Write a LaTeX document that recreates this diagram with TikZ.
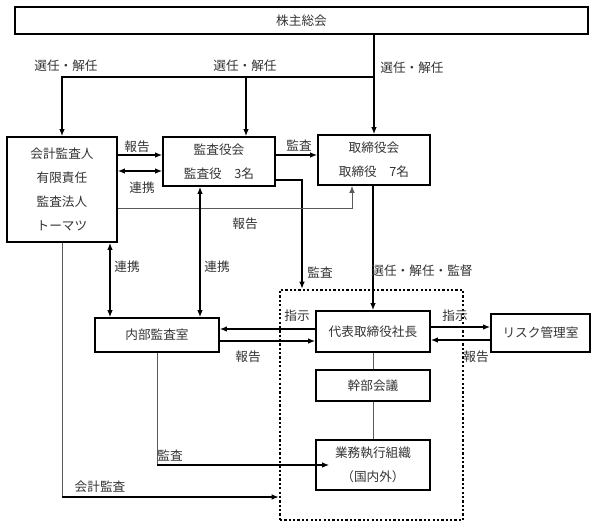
\documentclass[tikz,border=0pt]{standalone}
\usepackage{fontspec}
\newfontfamily\jpfont{Noto Sans CJK JP}
\usetikzlibrary{arrows.meta}
\newcommand{\pu}{0.25mm}
\begin{document}
\begin{tikzpicture}[x=\pu,y=-\pu,>={Latex[length=5pt,width=4pt]},font=\jpfont\fontsize{9}{17}\selectfont,text=black!80]
 \tikzset{box/.style={draw=black,line width=1.3pt,align=center,inner sep=0pt},
 conn/.style={line width=.9pt},
 thinline/.style={line width=.6pt,draw=black!65},
 lbl/.style={inner sep=0pt}
 }
 \useasboundingbox (0,0) rectangle (600,526);
 \node[draw=black,line width=1.8pt,dash pattern=on 1.6pt off 1.5pt,minimum width=183*\pu,minimum height=230*\pu] (frame) at (371.5,405) {};
 \node[box,minimum width=573*\pu,minimum height=27*\pu] (gm) at (301.5,20.5) {株主総会};
 \node[box,minimum width=110*\pu,minimum height=105*\pu] (auditor) at (62,189.5) {会計監査人\\有限責任\\監査法人\\トーマツ};
 \node[box,minimum width=112*\pu,minimum height=49*\pu] (kansa) at (219,161.5) {監査役会\\監査役　3名};
 \node[box,minimum width=112*\pu,minimum height=50*\pu] (board) at (374,160) {取締役会\\取締役　7名};
 \node[box,minimum width=124*\pu,minimum height=34*\pu] (internal) at (157,335) {内部監査室};
 \node[box,minimum width=114*\pu,minimum height=41*\pu] (ceo) at (373,331.5) {代表取締役社長};
 \node[box,minimum width=99*\pu,minimum height=38*\pu] (risk) at (540.5,333) {リスク管理室};
 \node[box,minimum width=114*\pu,minimum height=31*\pu] (exec) at (373,385.5) {幹部会議};
 \node[box,minimum width=114*\pu,minimum height=50*\pu] (ops) at (373,465) {業務執行組織\\（国内外）};

 \coordinate (split) at (gm.south -| board);
 \coordinate (acorner) at (auditor.south |- 0,497);
 \coordinate (icorner) at (internal.south |- ops.west);
 \draw[conn,->] (split) -- (board.north);
 \draw[conn,->] (split |- 0,77) -| (auditor.north);
 \draw[conn,->] (split |- 0,77) -| (246,0 |- kansa.north);
 \draw[conn,->] (auditor.east |- 0,155) -- (kansa.west |- 0,155);
 \draw[conn,<->] (auditor.east |- 0,171) -- (kansa.west |- 0,171);
 \draw[conn,->] (kansa.east |- 0,155) -- (board.west |- 0,155);
 \draw[conn,->] (kansa.east |- 0,180) -| (302,0 |- frame.north);
 \draw[thinline,->] (auditor.east |- 0,208) -| (352,0 |- board.south);
 \draw[conn,->] (board.south -| ceo) -- (ceo.north);
 \draw[conn,<->] (auditor.south -| 110,0) -- (internal.north -| 110,0);
 \draw[conn,<->] (kansa.south -| 200,0) -- (internal.north -| 200,0);
 \draw[thinline] (auditor.south) -- (acorner);
 \draw[conn,->] (acorner) -- (frame.west |- acorner);
 \draw[conn,->] (ceo.west |- 0,329) -- (internal.east |- 0,329);
 \draw[conn,->] (internal.east |- 0,341) -- (ceo.west |- 0,341);
 \draw[conn,->] (ceo.east |- 0,327) -- (risk.west |- 0,327);
 \draw[conn,->] (risk.west |- 0,340) -- (ceo.east |- 0,340);
 \draw[thinline] (ceo) -- (exec) (exec) -- (ops);
 \draw[thinline] (internal.south) -- (icorner);
 \draw[conn,->] (icorner) -- ([xshift=14*\pu]ops.west);

 \node[lbl] (l1) at (66,66) {選任・解任};
 \node[lbl] (l2) at (245,66) {選任・解任};
 \node[lbl] (l3) at (412,68) {選任・解任};
 \node[lbl] (l4) at (137,147) {報告};
 \node[lbl] (l5) at (142,188) {連携};
 \node[lbl] (l6) at (299,146) {監査};
 \node[lbl] (l7) at (245,224) {報告};
 \node[lbl] (l8) at (320,273) {監査};
 \node[lbl] (l9) at (422,271) {選任・解任・監督};
 \node[lbl] (l10) at (127,267) {連携};
 \node[lbl] (l11) at (217,267) {連携};
 \node[lbl] (l12) at (297,316) {指示};
 \node[lbl] (l13) at (248,357) {報告};
 \node[lbl] (l14) at (455,316) {指示};
 \node[lbl] (l15) at (476,357) {報告};
 \node[lbl] (l16) at (170,456) {監査};
 \node[lbl] (l17) at (100,487) {会計監査};
\end{tikzpicture}
\end{document}
